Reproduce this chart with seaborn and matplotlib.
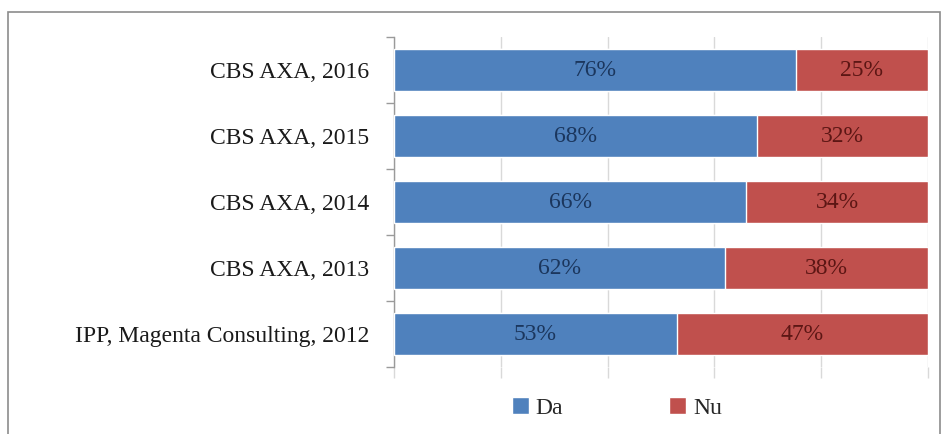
import matplotlib
matplotlib.use("Agg")
import matplotlib.pyplot as plt
import numpy as np
import pandas as pd
import seaborn as sns
from matplotlib.patches import Rectangle

# data (top to bottom)
sources = [
    "CBS AXA, 2016",
    "CBS AXA, 2015",
    "CBS AXA, 2014",
    "CBS AXA, 2013",
    "IPP, Magenta Consulting, 2012",
]
da = [76, 68, 66, 62, 53]
nu = [25, 32, 34, 38, 47]

BLUE = "#4F81BD"
RED = "#C0504D"
FS = 17

df = pd.DataFrame({"source": sources, "da": da, "nu": nu})
total = df["da"] + df["nu"]
# 100% stacked: shares of each row total
df["da_share"] = df["da"] / total * 100
df["total_share"] = 100.0

sns.set_theme(style="white")
plt.rcParams["font.family"] = ["Liberation Serif", "DejaVu Serif"]

fig = plt.figure(figsize=(9.45, 4.34), dpi=100)
ax = fig.add_axes([394 / 945, 1 - 367 / 434, (928 - 394) / 945, (367 - 37) / 434])

sns.barplot(data=df, x="total_share", y="source", color=RED, width=0.63,
            saturation=1, ax=ax, orient="h", label="Nu", zorder=2)
sns.barplot(data=df, x="da_share", y="source", color=BLUE, width=0.63,
            saturation=1, ax=ax, orient="h", label="Da", zorder=3)

for i, row in df.iterrows():
    ax.text(row["da_share"] / 2, i, f"{row['da']}%", ha="center", va="center",
            fontsize=FS, color="#1B365D", zorder=5)
    ax.text((row["da_share"] + 100) / 2, i, f"{row['nu']}%", ha="center",
            va="center", fontsize=FS, color="#5C1614", zorder=5)

ax.set_xlim(0, 100)
ax.set_ylim(len(sources) - 0.5, -0.5)
ax.set_xticks(np.arange(0, 101, 20))
ax.set_xticklabels([])
ax.xaxis.grid(True, color="#D9D9D9", linewidth=1)
ax.set_axisbelow(True)
ax.tick_params(axis="x", bottom=True, length=8, color="#D9D9D9", width=1)
ax.set_yticks(np.arange(-0.5, len(sources), 1), minor=True)
ax.tick_params(axis="y", which="minor", left=True, length=6, color="#9A9A9A")
ax.tick_params(axis="y", which="major", length=0, pad=18, labelsize=FS,
               labelcolor="#1a1a1a")
ax.set_xlabel("")
ax.set_ylabel("")
for side in ["top", "right", "bottom"]:
    ax.spines[side].set_visible(False)
ax.spines["left"].set_color("#9A9A9A")
ax.spines["left"].set_linewidth(1)

handles, labels = ax.get_legend_handles_labels()
order = [labels.index("Da"), labels.index("Nu")]
leg = ax.legend([handles[k] for k in order], [labels[k] for k in order],
                loc="center", bbox_to_anchor=(617 / 945, 1 - 408 / 434),
                bbox_transform=fig.transFigure, ncol=2, frameon=False,
                fontsize=FS, handlelength=0.7, handleheight=0.7,
                columnspacing=4.5, handletextpad=0.3)

fig.patches.append(Rectangle((8 / 945, -0.05), 932 / 945, 1.05 - 12 / 434,
                             transform=fig.transFigure, fill=False,
                             edgecolor="#8C8C8C", linewidth=1.2))

fig.savefig("out.png", dpi=100)
